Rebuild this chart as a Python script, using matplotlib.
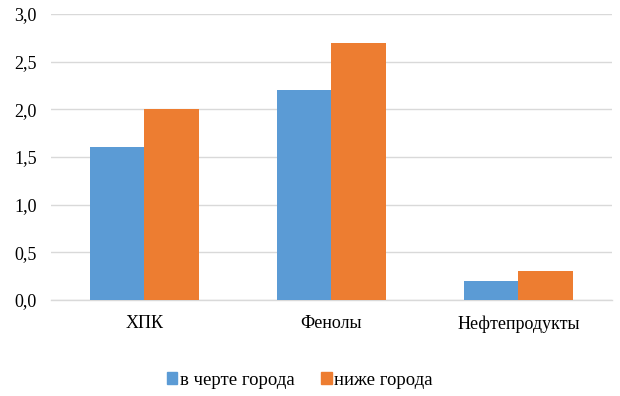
import matplotlib.pyplot as plt
import numpy as np
from matplotlib.patches import Patch

categories = ['ХПК', 'Фенолы', 'Нефтепродукты']
in_city = [1.6, 2.2, 0.2]
below_city = [2.0, 2.7, 0.3]
series_names = ['в черте города', 'ниже города']
yticks = [0.0, 0.5, 1.0, 1.5, 2.0, 2.5, 3.0]

plt.rcParams['font.family'] = ['Liberation Serif', 'DejaVu Serif']

fig = plt.figure(figsize=(6.2, 3.96), dpi=100)
ax = fig.add_axes([0.082, 0.2424, 0.905, 0.7222])

x = np.arange(len(categories))
w = 0.29
blue = '#5B9BD5'
orange = '#ED7D31'
ax.bar(x - w/2, in_city, w, color=blue, zorder=3)
ax.bar(x + w/2, below_city, w, color=orange, zorder=3)

ax.set_xlim(-0.5, 2.5)
ax.set_ylim(0, 3.0)
ax.set_yticks(yticks)
ax.set_yticklabels([f'{v:.1f}'.replace('.', ',') for v in yticks], fontsize=13)
ax.set_xticks(x)
ax.set_xticklabels(categories, fontsize=13)
ax.tick_params(length=0)
ax.tick_params(axis='x', pad=11)
ax.tick_params(axis='y', pad=10)
ax.grid(axis='y', color='#D9D9D9', linewidth=1, zorder=0)
for s in ['top', 'right', 'left']:
    ax.spines[s].set_visible(False)
ax.spines['bottom'].set_color('#D9D9D9')
ax.spines['bottom'].set_linewidth(1)

handles = [Patch(color=blue), Patch(color=orange)]
fig.legend(handles, series_names, loc='center', bbox_to_anchor=(0.484, 0.04),
           ncol=2, frameon=False, fontsize=13.5, handlelength=0.55, handleheight=0.55,
           handletextpad=0.15, columnspacing=1.4)

fig.savefig('out.png', dpi=100)
